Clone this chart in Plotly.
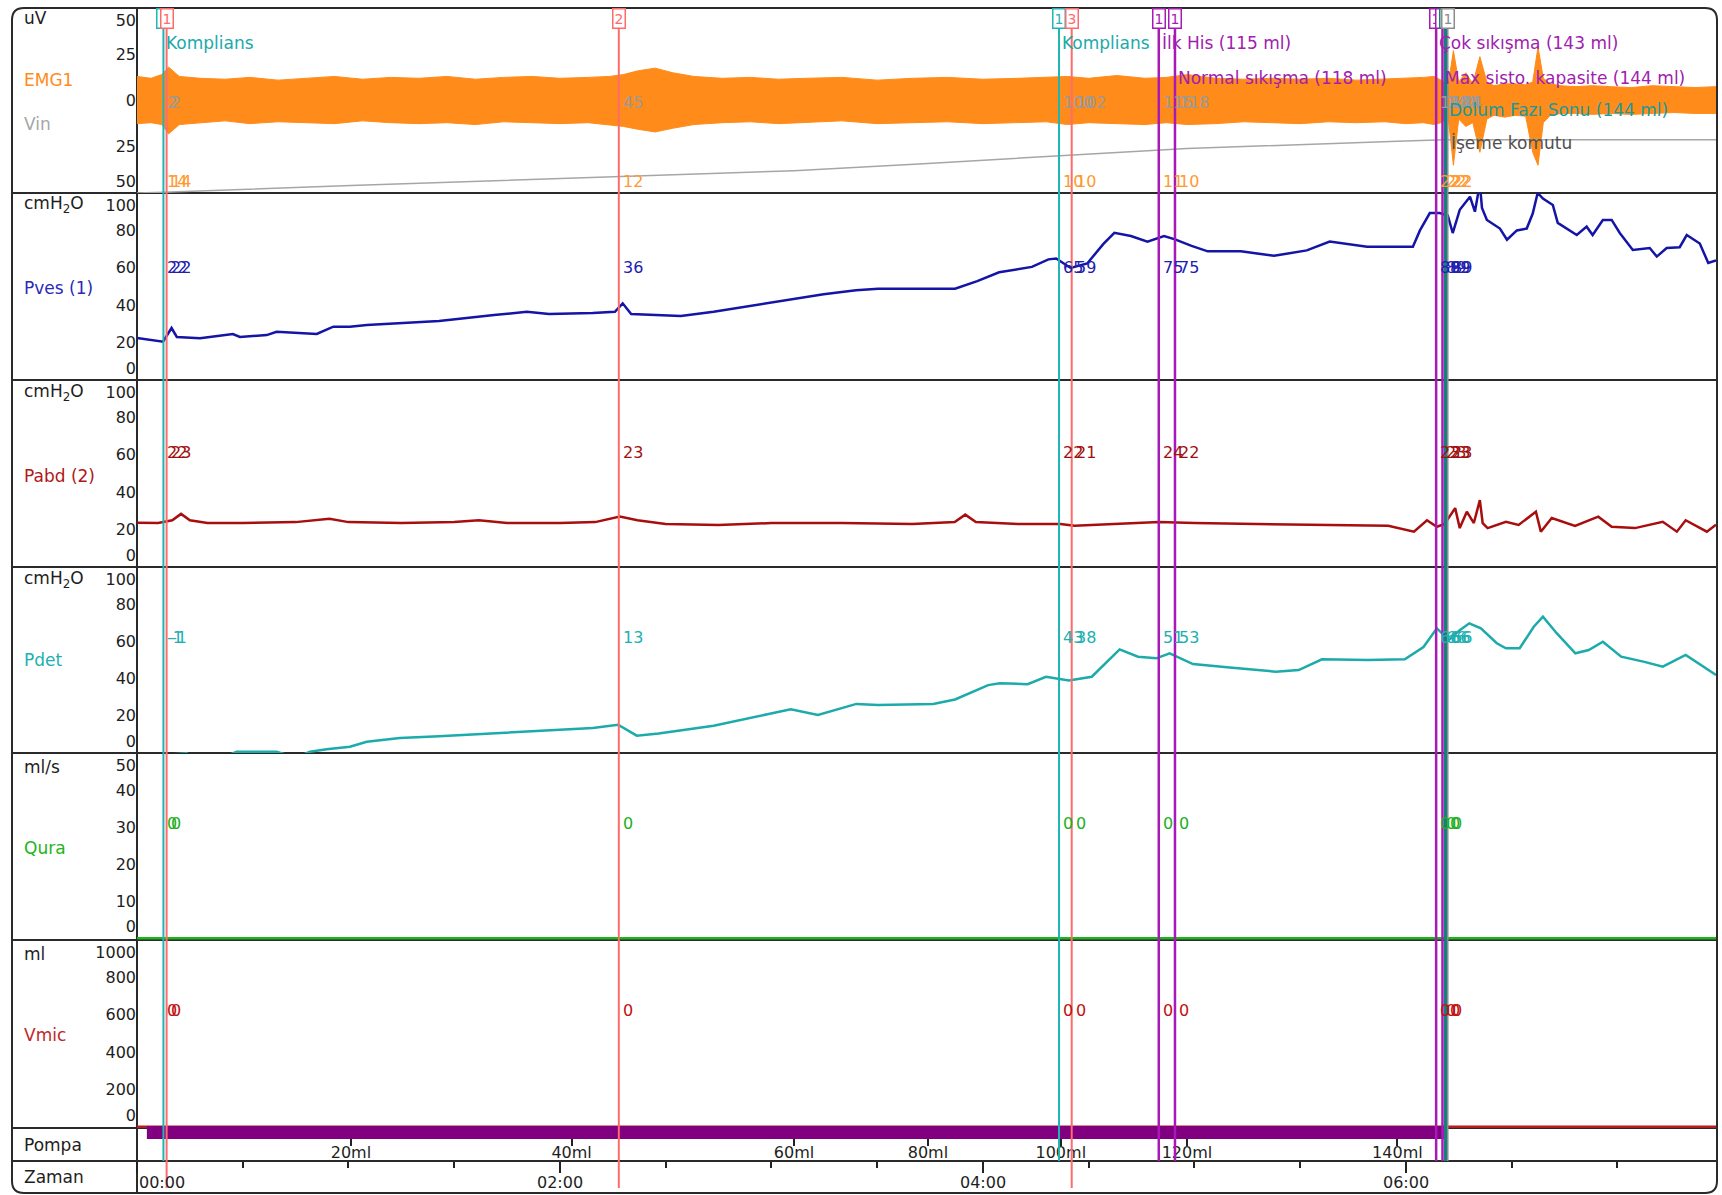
import plotly.graph_objects as go

W, H = 1722, 1195
def px(x): return x / W
def py(y): return 1 - y / H

# ---------------- data (time in seconds) ----------------
vin_t  = [0, 4, 7.5, 60.7, 123.3, 136.7, 186.4, 224.4, 261.6, 265.2, 289.9, 294.5, 297.9, 357.6, 368.6, 371, 448]
vin_ml = [0, 0, 2, 20, 40, 45, 60, 80, 100, 102, 115, 118, 120, 140, 143, 144, 144]

emg_t = [0, 4, 7, 9, 12, 18, 25, 32, 40, 48,
         56, 64, 72, 80, 88, 96, 104, 112, 120, 128,
         134, 138, 142, 147, 152, 158, 166, 174, 182, 190,
         200, 210, 220, 230, 240, 250, 258, 264, 270, 278,
         286, 292, 298, 306, 314, 322, 330, 338, 346, 354,
         360, 365, 368, 370, 372, 373.5, 375, 377, 379, 381,
         383, 385, 388, 391, 394, 396, 397.5, 399, 401, 404,
         408, 413, 418, 424, 430, 436, 442, 448]
emg_hi = [13, 12, 14, 18, 13, 12, 11.5, 12.5, 11, 12,
          13, 11.5, 12.5, 12, 13, 11.5, 12.5, 13, 12, 12.5,
          13, 14, 16, 17.5, 15, 13, 12, 12.5, 11.5, 12,
          12.5, 11, 12, 12.5, 11.5, 12, 12.5, 13, 12, 13.5,
          12, 12.5, 14, 12, 11.5, 12, 11.5, 12, 11, 11.5,
          12, 12.5, 13, 11, 8, 27, 10, 15, 9, 23.7,
          10, 8, 9, 9, 8.5, 10, 29, 12, 9, 8,
          7.5, 8, 7.5, 7, 8, 7.5, 7, 7.5]
emg_lo = [-12.5, -12, -13, -18, -13, -12, -11, -12.5, -11.5, -12,
          -12.5, -11, -12, -12.5, -12, -13, -11.5, -12, -12.5, -12,
          -13, -14, -15.5, -17, -15, -13, -12, -11.5, -12.5, -12,
          -11, -12.5, -12, -11.5, -12.5, -12, -11.5, -13, -12, -12.5,
          -13, -12, -13, -12.5, -11.5, -12, -12.5, -11.5, -12, -11.5,
          -12.5, -12, -13, -12, -9, -35, -10, -14, -12, -28,
          -10, -8, -9, -8, -8.5, -28, -35, -12, -8, -7,
          -7, -7.5, -7, -7.5, -7, -6.5, -7, -7]

pves_t = [0, 7.4, 9.8, 11.3, 17.9, 27.2, 29.2, 36.8, 39.6, 46.2,
          51, 55.7, 60.4, 65.2, 74.6, 85.7, 101.3, 110.6, 116.9, 129.3,
          135.6, 137.8, 140.2, 154.3, 163.6, 179.2, 194.8, 204, 210.3, 232.1,
          238.4, 244.6, 253.9, 258.6, 260.8, 264.9, 269.6, 274.2, 277.3, 282,
          286.7, 291.4, 294.5, 299.2, 303.8, 313.2, 322.6, 331.9, 338.4, 349,
          362, 364, 366.8, 369.6, 371.9, 373.3, 375.3, 378.2, 379.6, 381,
          381.6, 383, 386.7, 388.7, 391.5, 394.3, 396, 397.4, 398.9, 401.7,
          403.1, 408.5, 411.3, 413, 415.9, 418.4, 420.7, 424.4, 429.2, 431.2,
          434, 437.7, 439.7, 443.4, 445.8, 448]
pves_v = [22.5, 20.5, 27.8, 23, 22.3, 24.6, 23, 24, 25.8, 25.3,
          24.6, 28.5, 28.5, 29.4, 30.3, 31.5, 34.7, 36.5, 35.3, 35.8,
          36.5, 41, 35.3, 34.2, 36.5, 41, 45.8, 48, 48.8, 48.8,
          52.9, 57.6, 60.5, 64.5, 65, 59.9, 62.3, 72.8, 78.7, 77,
          74, 77, 75.2, 71.7, 68.8, 68.8, 66.4, 69.3, 74, 71.3,
          71.3, 80, 89.3, 89.3, 88, 78.6, 91, 98, 90, 105,
          92, 85.6, 81, 75, 80, 81, 89, 100, 97, 93.6,
          84, 77.5, 82, 77.5, 85.6, 85.6, 78.6, 69.5, 70.6, 66,
          70.6, 71, 77.5, 73, 62.6, 64]

pabd_t = [0, 6, 10, 12.5, 15, 20, 30, 45, 54.6, 60,
          75, 90, 97, 105, 120, 130, 137, 142, 150, 165,
          180, 200, 220, 232, 235, 238, 250, 262, 266, 280,
          290, 300, 315, 330, 345, 355, 362.3, 366, 368.8, 371,
          374, 375.3, 377.3, 379.3, 381, 381.8, 383.2, 388.4, 392, 396.9,
          398.3, 401.4, 408, 414.6, 418.4, 425, 432.9, 436.9, 439.4, 445.4, 448]
pabd_v = [23.7, 23.5, 25, 28.4, 25, 23.5, 23.5, 24, 25.8, 24,
          23.5, 24, 25, 23.5, 23.5, 24, 27, 25, 23, 22.5,
          23.5, 23.5, 23, 24, 28, 24, 23, 23, 22, 23,
          24, 23.5, 23, 22.5, 22, 22, 18.9, 25, 21.5, 23,
          31.5, 20.8, 29.6, 23.5, 35.8, 23.5, 20.8, 24.2, 22.5, 29.6,
          18.9, 26.2, 22, 26.9, 21.5, 20.8, 24.2, 18.9, 25, 18.9, 22.6]

pdet_t = [0, 7.4, 14.1, 17, 21.6, 25.4, 28.3, 39.6, 42.5, 46.2,
          49.1, 53.8, 60.4, 65.2, 69.8, 74.6, 85.7, 101.3, 117, 129.3,
          136.5, 141.8, 148, 163.6, 179.2, 185.5, 193.2, 204.1, 210.3, 225.9,
          232.1, 241.5, 244.8, 252.7, 257.9, 264.4, 270.9, 278.8, 284, 289.2,
          293, 299.6, 310, 323.1, 329.6, 336.2, 349.2, 359.7, 365, 368.8,
          372.2, 375.3, 378, 381.3, 385.8, 388.4, 392.3, 396.3, 398.9, 402.8,
          408.1, 411.9, 415.9, 421.1, 427.7, 432.9, 439.4, 444.5, 448]
pdet_v = [-2, -1, -0.2, -3.8, -3.8, -1.6, 0.7, 0.7, -1, -1.6,
          0.7, 2, 3.4, 6, 7, 8, 9, 10.5, 12.3, 13.4,
          15.2, 9.3, 10.5, 14.6, 21, 23.5, 20.5, 26.4, 25.8, 26.4,
          28.8, 36.5, 37.5, 37, 41, 39, 41, 55.7, 51.8, 50.9,
          53.6, 47.8, 46, 43.7, 44.6, 50.4, 50, 50.4, 57, 67,
          60.8, 66, 69.7, 67, 59, 56.3, 56.3, 67.9, 73.3, 64.4,
          53.6, 55.4, 59.8, 51.8, 49, 46.4, 52.7, 46.4, 42]

qura_t = [0, 448]
qura_v = [0, 0]
vmic_t = [0, 448]
vmic_v = [0, 0]

pump_t = [2.8, 370.8]
pump_on = [1, 1]

pompa_ml_vals = [60.7, 123.3, 186.4, 224.4, 262.1, 297.9, 357.6]
pompa_ml_text = ["20ml", "40ml", "60ml", "80ml", "100ml", "120ml", "140ml"]

time_tick_vals = [0, 120, 240, 360]
time_tick_text = ["00:00", "02:00", "04:00", "06:00"]

# event markers
mark_t     = [7.5, 8.4, 136.7, 261.6, 265.2, 289.9, 294.5, 368.6, 370.4, 371.3, 371.9]
mark_kind  = ["cyan", "red", "red", "cyan", "red", "purple", "purple", "purple", "purple", "teal", "gray"]
mark_num   = ["1", "1", "2", "1", "3", "1", "1", "1", "1", "1", "1"]
mark_label = ["Komplians", None, None, "Komplians", None, "İlk His (115 ml)", "Normal sıkışma (118 ml)",
              "Çok sıkışma (143 ml)", "Max sisto. kapasite (144 ml)", "Dolum Fazı Sonu (144 ml)", "İşeme komutu"]
mark_row   = [0, None, None, 0, None, 0, 1, 0, 1, 2, 3]

read_vin  = ["2", "2", "45", "100", "102", "115", "118", "143", "144", "144", "144"]
read_emg  = ["14", "14", "12", "10", "10", "11", "10", "22", "22", "22", "22"]
read_pves = ["22", "22", "36", "65", "59", "75", "75", "89", "89", "89", "89"]
read_pabd = ["22", "23", "23", "22", "21", "24", "22", "23", "23", "23", "23"]
read_pdet = ["-1", "-1", "13", "43", "38", "51", "53", "66", "66", "66", "66"]
read_qura = ["0"] * 11
read_vmic = ["0"] * 11

# ---------------- styles ----------------
FONT = "DejaVu Sans"
DARK = "#1e1e1e"
ORANGE = "#FF8C1A"
VIN_GRAY = "#A6A6A6"
PVES_C = "#1414A6"
PABD_C = "#A80E0E"
PDET_C = "#1CAAAA"
QURA_C = "#1EB41E"
VMIC_C = "#B41E1E"
PUMP_C = "#800080"
MARK_C = {"cyan": "#1FB5B5", "red": "#FF6B6B", "purple": "#A819B8", "teal": "#15807F", "gray": "#8C8C8C"}
MARK_W = {"cyan": 2, "red": 2, "purple": 2.5, "teal": 3.5, "gray": 1.5}
EVENT_C = {"cyan": "#1AAAAA", "red": "#FF6B6B", "purple": "#A020B0", "teal": "#1A9A9A", "gray": "#505050"}

LEFT, RIGHT = 137, 1716
FL, FR, FT, FB = 12, 1717, 8, 1193
edges = [8, 193, 380, 567, 753, 940, 1128, 1161, 1193]

fig = go.Figure()

# traces (subplot order: later subplots drawn on top)
fig.add_trace(go.Scatter(x=vin_t, y=vin_ml, yaxis="y2", mode="lines",
                         line=dict(color=VIN_GRAY, width=1.5)))
fig.add_trace(go.Scatter(x=emg_t, y=emg_hi, yaxis="y", mode="lines",
                         line=dict(color=ORANGE, width=1)))
fig.add_trace(go.Scatter(x=emg_t, y=emg_lo, yaxis="y", mode="lines",
                         line=dict(color=ORANGE, width=1), fill="tonexty", fillcolor=ORANGE))
fig.add_trace(go.Scatter(x=pves_t, y=pves_v, yaxis="y3", mode="lines",
                         line=dict(color=PVES_C, width=2.5)))
fig.add_trace(go.Scatter(x=pabd_t, y=pabd_v, yaxis="y4", mode="lines",
                         line=dict(color=PABD_C, width=2.5)))
fig.add_trace(go.Scatter(x=pdet_t, y=pdet_v, yaxis="y5", mode="lines",
                         line=dict(color=PDET_C, width=2.5)))
fig.add_trace(go.Scatter(x=qura_t, y=qura_v, yaxis="y6", mode="lines",
                         line=dict(color=QURA_C, width=2.5)))
fig.add_trace(go.Scatter(x=vmic_t, y=vmic_v, yaxis="y7", mode="lines",
                         line=dict(color=VMIC_C, width=3)))
fig.add_trace(go.Scatter(x=pump_t, y=pump_on, yaxis="y8", mode="lines",
                         line=dict(color=PUMP_C, width=13)))
# carrier for the ml scale axis of the pump row
fig.add_trace(go.Scatter(x=[None], y=[None], xaxis="x2", yaxis="y8", mode="lines",
                         line=dict(width=0), showlegend=False))

def yax(top, bot, rng, ticks, texts, inset_px=12):
    lo, hi = rng
    inset = inset_px * (hi - lo) / (bot - top)
    vals = list(ticks)
    vals[0] = ticks[0] + inset if ticks[0] <= lo + inset else ticks[0]
    vals[-1] = ticks[-1] - inset if ticks[-1] >= hi - inset else ticks[-1]
    return dict(domain=[py(bot), py(top)], range=list(rng), anchor="x",
                tickmode="array", tickvals=vals, ticktext=texts, ticks="",
                showgrid=False, zeroline=False, showline=False,
                tickfont=dict(family=FONT, size=16, color=DARK), fixedrange=True)

p_ticks = [0, 20, 40, 60, 80, 100]
p_text = [str(v) for v in p_ticks]

layout = dict(
    width=W, height=H, margin=dict(l=0, r=0, t=0, b=0),
    paper_bgcolor="white", plot_bgcolor="rgba(0,0,0,0)",
    showlegend=False, hovermode=False,
    font=dict(family=FONT, size=16, color=DARK),
    xaxis=dict(domain=[px(LEFT), px(RIGHT)], range=[0, 448], anchor="free", position=py(1161),
               tickmode="linear", tick0=0, dtick=120, ticks="outside", ticklen=11, tickwidth=2,
               tickcolor="#222", showticklabels=False, showgrid=False, zeroline=False, showline=False,
               minor=dict(tickmode="linear", tick0=0, dtick=30, ticks="outside", ticklen=6,
                          tickwidth=2, tickcolor="#222", showgrid=False)),
    xaxis2=dict(overlaying="x", range=[0, 448], anchor="free", position=py(1138), side="bottom",
                tickmode="array", tickvals=pompa_ml_vals, ticktext=pompa_ml_text,
                ticks="outside", ticklen=7, tickwidth=2, tickcolor="#222", ticklabelstandoff=-7,
                tickfont=dict(family=FONT, size=16, color=DARK),
                showgrid=False, zeroline=False, showline=False),
    yaxis=yax(8, 193, (-50, 50), [-50, -25, 0, 25, 50], ["50", "25", "0", "25", "50"]),
    yaxis2=dict(overlaying="y", range=[0, 500], visible=False, anchor="x"),
    yaxis3=yax(193, 380, (0, 100), p_ticks, p_text),
    yaxis4=yax(380, 567, (0, 100), p_ticks, p_text),
    yaxis5=yax(567, 753, (0, 100), p_ticks, p_text),
    yaxis6=yax(753, 940, (-0.5, 50), [0, 10, 20, 30, 40, 50], ["0", "10", "20", "30", "40", "50"]),
    yaxis7=yax(940, 1128, (-5, 1000), [0, 200, 400, 600, 800, 1000],
               ["0", "200", "400", "600", "800", "1000"]),
    yaxis8=dict(domain=[py(1161), py(1124)], range=[0, 1.3], visible=False, anchor="x"),
)
fig.update_layout(**layout)

shapes = []
r = 12
def P(x, y): return f"{px(x)},{py(y)}"
frame = (f"M {P(FL + r, FT)} L {P(FR - r, FT)} Q {P(FR, FT)} {P(FR, FT + r)} "
         f"L {P(FR, FB - r)} Q {P(FR, FB)} {P(FR - r, FB)} L {P(FL + r, FB)} "
         f"Q {P(FL, FB)} {P(FL, FB - r)} L {P(FL, FT + r)} Q {P(FL, FT)} {P(FL + r, FT)} Z")
shapes.append(dict(type="path", path=frame, xref="paper", yref="paper",
                   line=dict(color="#2a2a2a", width=2), layer="below"))
shapes.append(dict(type="line", xref="paper", yref="paper", x0=px(LEFT), x1=px(LEFT),
                   y0=py(FB), y1=py(FT), line=dict(color="#2a2a2a", width=2), layer="below"))
for e in edges[1:-1]:
    shapes.append(dict(type="line", xref="paper", yref="paper", x0=px(FL), x1=px(FR),
                       y0=py(e), y1=py(e), line=dict(color="#2a2a2a", width=2), layer="below"))
for t, k in zip(mark_t, mark_kind):
    ybot = 1188 if k == "red" else 1161
    shapes.append(dict(type="line", xref="x", yref="paper", x0=t, x1=t, y0=py(ybot), y1=py(FT + 2),
                       line=dict(color=MARK_C[k], width=MARK_W[k]), layer="above"))

ann = []
left_labels = [("uV", 18, DARK), ("EMG1", 80, ORANGE), ("Vin", 124, VIN_GRAY),
               ("cmH<sub>2</sub>O", 205, DARK), ("Pves (1)", 288, "#2a2ab8"),
               ("cmH<sub>2</sub>O", 392, DARK), ("Pabd (2)", 476, "#b01818"),
               ("cmH<sub>2</sub>O", 580, DARK), ("Pdet", 660, "#22b0b0"),
               ("ml/s", 767, DARK), ("Qura", 848, "#22b422"),
               ("ml", 954, DARK), ("Vmic", 1035, "#c02828"),
               ("Pompa", 1145, DARK), ("Zaman", 1177, DARK)]
for txt, y, c in left_labels:
    ann.append(dict(text=txt, x=px(22), y=py(y), xref="paper", yref="paper", xanchor="left",
                    yanchor="middle", showarrow=False, font=dict(family=FONT, size=17, color=c)))

for v, s in zip(time_tick_vals, time_tick_text):
    ann.append(dict(text=s, x=v, y=py(1182), xref="x", yref="paper",
                    xanchor="left" if v == 0 else "center", yanchor="middle", showarrow=False,
                    font=dict(family=FONT, size=16, color=DARK)))

rows = [(read_vin, 102, "#9a9a9a"), (read_emg, 182, "#FF9A30"), (read_pves, 267, "#2020B0"),
        (read_pabd, 452, "#A01010"), (read_pdet, 637, "#20B0B0"), (read_qura, 823, "#20B020"),
        (read_vmic, 1010, "#C01010")]
for vals, y, c in rows:
    for t, s in zip(mark_t, vals):
        ann.append(dict(text=s, x=t, y=py(y), xref="x", yref="paper", xanchor="left", xshift=2,
                        yanchor="middle", showarrow=False, font=dict(family=FONT, size=16, color=c)))

row_y = [43, 78, 110, 143]
for t, k, lab, rw in zip(mark_t, mark_kind, mark_label, mark_row):
    if lab is None:
        continue
    ann.append(dict(text=lab, x=t, y=py(row_y[rw]), xref="x", yref="paper", xanchor="left", xshift=1,
                    yanchor="middle", showarrow=False,
                    font=dict(family=FONT, size=17, color=EVENT_C[k])))

for t, k, n in zip(mark_t, mark_kind, mark_num):
    ann.append(dict(text=n, x=t, y=py(FT), xref="x", yref="paper", xanchor="center", yanchor="top",
                    showarrow=False, bgcolor="white", bordercolor=MARK_C[k], borderwidth=1.5,
                    borderpad=1, font=dict(family=FONT, size=14, color=MARK_C[k])))

fig.update_layout(shapes=shapes, annotations=ann)

fig.write_html("out.html", config={"displayModeBar": False, "staticPlot": True},
               post_script="document.body.style.margin='0';document.body.style.overflow='hidden';")
